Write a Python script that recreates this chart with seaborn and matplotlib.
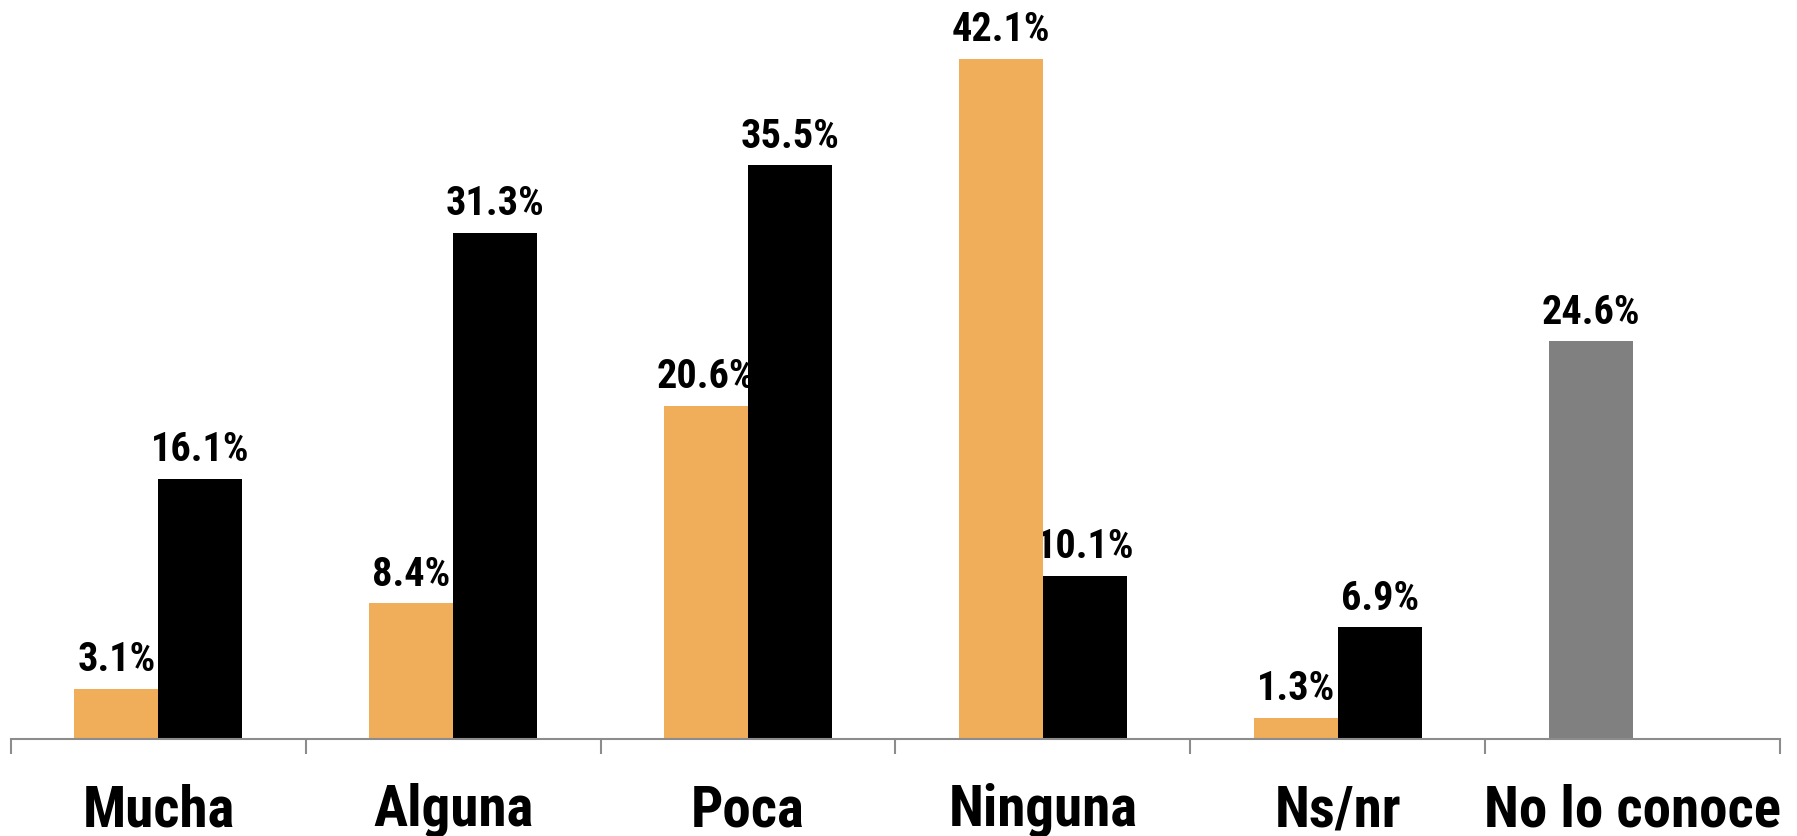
#%% IMPORTS
import matplotlib
matplotlib.use('Agg')
from matplotlib import pyplot as plt
from matplotlib import font_manager
import numpy as np
import pandas as pd
import seaborn as sns

#%% DATA
categories = ['Mucha', 'Alguna', 'Poca', 'Ninguna', 'Ns/nr', 'No lo conoce']
serie_a = [3.1, 8.4, 20.6, 42.1, 1.3, 24.6]
serie_b = [16.1, 31.3, 35.5, 10.1, 6.9, np.nan]
series = ['A', 'B']

#%% STYLE
orange = '#F0AD5A'
black = '#000000'
gray = '#808080'
axis_gray = '#8C8C8C'

names = {f.name for f in font_manager.fontManager.ttflist}
wanted = ['Roboto Condensed', 'Barlow Condensed', 'Archivo Narrow', 'Asap Condensed']
font = next((f for f in wanted if f in names), 'DejaVu Sans')

sns.set_style('white')
plt.rcParams['font.family'] = [font, 'DejaVu Sans']

df = pd.DataFrame({
  'cat': categories * 2,
  'val': serie_a + serie_b,
  'serie': [series[0]] * len(categories) + [series[1]] * len(categories),
})

#%% PLOT
fig = plt.figure(figsize=(17.97, 8.36), dpi=100)
ax = fig.add_axes([11 / 1797, 97 / 836, 1769 / 1797, 739 / 836])

sns.barplot(data=df, x='cat', y='val', hue='serie', order=categories,
            hue_order=series, palette=[orange, black], width=0.57,
            saturation=1, errorbar=None, legend=False, linewidth=0,
            zorder=2, ax=ax)

# last orange bar is the gray "No lo conoce"
ax.containers[0][len(categories) - 1].set_facecolor(gray)

# labels sit under the bars, as in the original (the % hides behind black)
for cont, vals in zip(ax.containers, [serie_a, serie_b]):
  labs = [f'{v:.1f}%' for v in vals if not np.isnan(v)]
  ax.bar_label(cont, labels=labs, padding=7, fontsize=29,
               fontweight='bold', color='black', zorder=1)

ax.set_xlim(-0.5, len(categories) - 0.5)
ax.set_ylim(0, 739 / 16.16)
ax.set_xlabel('')
ax.set_ylabel('')
ax.set_yticks([])

for s in ['top', 'left', 'right']:
  ax.spines[s].set_visible(False)
ax.spines['bottom'].set_color(axis_gray)
ax.spines['bottom'].set_linewidth(1.5)

ax.set_xticks(range(len(categories)))
ax.set_xticklabels(categories, fontsize=41, fontweight='bold', color='black')
ax.tick_params(axis='x', which='major', length=0, pad=32)
ax.set_xticks(np.arange(-0.5, len(categories)), minor=True)
ax.tick_params(axis='x', which='minor', bottom=True, length=11, width=1.5,
               color=axis_gray, direction='out')

fig.savefig('out.png', dpi=100)
